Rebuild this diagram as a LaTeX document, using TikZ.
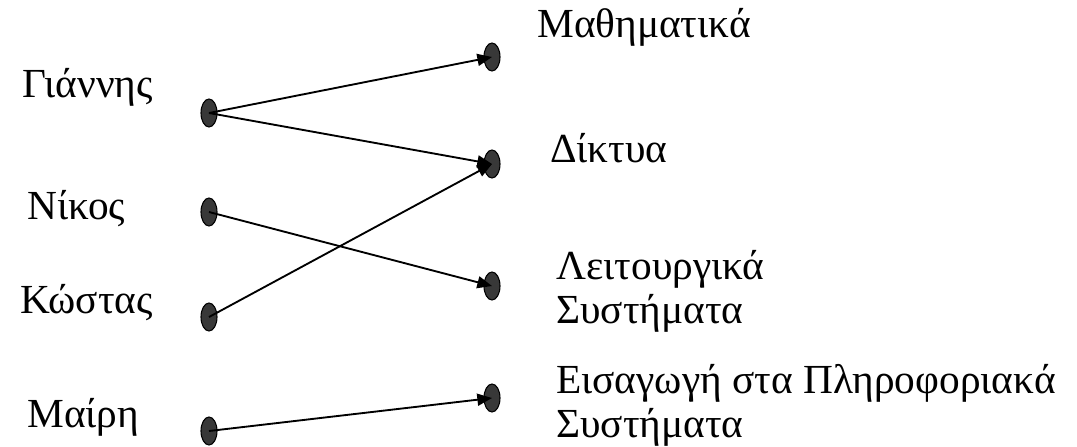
\documentclass[tikz,border=0pt]{standalone}
\usepackage{fontspec}
\setmainfont{Liberation Serif}
\usetikzlibrary{shapes.geometric,arrows.meta}
\begin{document}
\begin{tikzpicture}[x=0.75pt,y=-0.75pt,
  dot/.style={ellipse,draw=black,fill=black!78,line width=0.8pt,minimum width=12pt,minimum height=21pt,inner sep=0pt},
  lbl/.style={inner sep=0pt,anchor=base west,font=\fontsize{31pt}{33pt}\selectfont},
  lbl2/.style={inner sep=0pt,anchor=base west,align=left,font=\fontsize{31pt}{33pt}\selectfont},
  arr/.style={line width=1.4pt,-{Triangle[length=11pt,width=9pt]}}]
\useasboundingbox (0,0) rectangle (1077,446);
% left dots
\node[dot] (dg) at (209,113) {};
\node[dot] (dn) at (209,212) {};
\node[dot] (dk) at (209,317) {};
\node[dot] (dm) at (209,431) {};
% right dots
\node[dot] (rm) at (492,57) {};
\node[dot] (rd) at (492,164) {};
\node[dot] (rl) at (492,286) {};
\node[dot] (re) at (492,398) {};
% labels
\node[lbl] (lg) at (22,97) {Γιάννης};
\node[lbl] (ln) at (27,219) {Νίκος};
\node[lbl] (lk) at (20,313) {Κώστας};
\node[lbl] (lm) at (27,427) {Μαίρη};
\node[lbl] (tm) at (537,37) {Μαθηματικά};
\node[lbl] (td) at (550,162) {Δίκτυα};
\node[lbl2] (tl) at (556,323) {Λειτουργικά\\Συστήματα};
\node[lbl2] (te) at (556,437) {Εισαγωγή στα Πληροφοριακά\\Συστήματα};
% connectors
\draw[arr] (dg.center) -- (rm.center);
\draw[arr] (dg.center) -- (rd.center);
\draw[arr] (dn.center) -- (rl.center);
\draw[arr] (dk.center) -- (rd.center);
\draw[arr] (dm.center) -- (re.center);
\end{tikzpicture}
\end{document}
